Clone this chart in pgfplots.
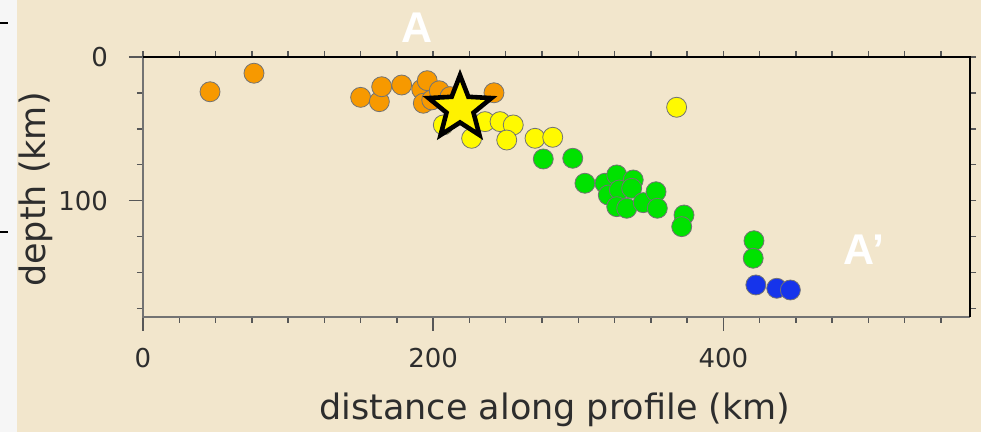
\documentclass[border=0pt]{standalone}
\usepackage{pgfplots}
\pgfplotsset{compat=1.18}
\usepackage{fontspec}
\setmainfont{DejaVu Sans}
\newfontfamily\markfont{Liberation Sans}

\definecolor{parchment}{RGB}{242,230,204}
\definecolor{quakeorange}{RGB}{247,153,0}
\definecolor{quakeyellow}{RGB}{255,250,0}
\definecolor{quakegreen}{RGB}{0,226,0}
\definecolor{quakeblue}{RGB}{22,52,235}
\definecolor{framegray}{RGB}{115,115,115}
\definecolor{inkgray}{RGB}{45,45,45}

% filled five-pointed star for the main shock
\pgfdeclareplotmark{fivestar}{%
  \pgfpathmoveto{\pgfpointpolar{90}{\pgfplotmarksize}}%
  \pgfpathlineto{\pgfpointpolar{126}{0.43\pgfplotmarksize}}%
  \pgfpathlineto{\pgfpointpolar{162}{\pgfplotmarksize}}%
  \pgfpathlineto{\pgfpointpolar{198}{0.43\pgfplotmarksize}}%
  \pgfpathlineto{\pgfpointpolar{234}{\pgfplotmarksize}}%
  \pgfpathlineto{\pgfpointpolar{270}{0.43\pgfplotmarksize}}%
  \pgfpathlineto{\pgfpointpolar{306}{\pgfplotmarksize}}%
  \pgfpathlineto{\pgfpointpolar{342}{0.43\pgfplotmarksize}}%
  \pgfpathlineto{\pgfpointpolar{18}{\pgfplotmarksize}}%
  \pgfpathlineto{\pgfpointpolar{54}{0.43\pgfplotmarksize}}%
  \pgfpathclose
  \pgfusepathqfillstroke}

% hypocentres: distance along profile (km), depth (km)
\pgfplotstableread{
x     d
46.2  24.2
76.5  11.3
150.0 28.1
162.9 31.1
164.5 20.7
178.3 19.5
192.1 22.5
195.9 16.5
193.2 32.2
199.0 29.9
204.2 23.5
211.6 27.6
241.9 24.9
}\orangeq
\pgfplotstableread{
x     d
207.0 47.3
226.5 56.6
235.7 45.0
246.1 45.0
255.2 47.3
250.7 57.8
270.2 56.6
282.4 55.9
367.8 35.0
}\yellowq
\pgfplotstableread{
x     d
275.9 71.0
296.2 70.5
304.6 87.9
318.4 87.9
326.5 82.1
337.9 85.6
320.7 96.1
328.3 92.6
336.8 91.4
326.5 104.2
333.4 105.3
344.8 101.4
353.6 93.8
354.5 105.3
372.9 110.0
371.3 118.1
421.1 127.9
420.6 140.1
}\greenq
\pgfplotstableread{
x     d
422.4 158.7
436.8 161.0
446.2 162.2
}\blueq

\pgfplotsset{
  profile box/.style={
    at={(71.5pt,57.5pt)}, anchor=south west,
    scale only axis, width=413.5pt, height=130pt,
    xmin=0, xmax=570, ymin=0, ymax=181,
    y dir=reverse,
    axis line style={draw=none},
    tick align=outside,
    tick style={inkgray!80, line width=0.7pt},
    clip=false,
  },
}

\begin{document}
\begin{tikzpicture}
\useasboundingbox (0pt,0pt) rectangle (490.5pt,216pt);
\fill[parchment] (0pt,0pt) rectangle (490.5pt,216pt);
\fill[white!93!gray] (0pt,0pt) rectangle (8.5pt,216pt);
\draw[black, line width=1.3pt] (0pt,204.5pt) -- (4pt,204.5pt);
\draw[black, line width=1.3pt] (0pt,100pt) -- (4pt,100pt);

% short ticks along the top and right edges
\begin{axis}[
  profile box,
  xtick={0,25,...,550}, ytick={0,25,...,175},
  xtick pos=upper, ytick pos=right,
  xticklabels={}, yticklabels={},
  major tick length=3pt,
]
\end{axis}

\begin{axis}[
  profile box,
  xtick={0,200,400}, minor xtick={25,50,...,550},
  ytick={0,100}, minor ytick={25,50,75,125,150,175},
  xtick pos=lower, ytick pos=left,
  major tick length=7pt, minor tick length=3pt,
  /pgf/number format/assume math mode=true,
  tick label style={font=\fontsize{13}{15}\selectfont, text=inkgray},
  xticklabel style={yshift=-5pt},
  yticklabel style={xshift=-7pt},
  xlabel={distance along profile (km)},
  ylabel={depth (km)},
  label style={font=\fontsize{17.5}{20}\selectfont, text=inkgray},
  xlabel style={at={(axis description cs:0.498,-0.358)}, anchor=center},
  ylabel style={at={(axis description cs:-0.129,0.49)}, anchor=center},
]
\addplot[only marks, mark=*, mark size=5pt,
  mark options={fill=quakeorange, draw=black!55, line width=0.4pt}]
  table[x=x, y=d] {\orangeq};
\addplot[only marks, mark=*, mark size=5pt,
  mark options={fill=quakeyellow, draw=black!55, line width=0.4pt}]
  table[x=x, y=d] {\yellowq};
\addplot[only marks, mark=*, mark size=5pt,
  mark options={fill=quakegreen, draw=black!55, line width=0.4pt}]
  table[x=x, y=d] {\greenq};
\addplot[only marks, mark=*, mark size=5pt,
  mark options={fill=quakeblue, draw=black!55, line width=0.4pt}]
  table[x=x, y=d] {\blueq};
% main shock
\addplot[only marks, mark=fivestar, mark size=16.5pt,
  mark options={fill=yellow, draw=black, line width=2.3pt}]
  coordinates {(218.5,35.7)};
\end{axis}

% profile frame
\draw[framegray, line width=1pt] (71.5pt,187.5pt) -- (71.5pt,57.5pt) -- (485pt,57.5pt);
\draw[black, line width=1pt] (71.5pt,187.5pt) -- (485pt,187.5pt) -- (485pt,57.5pt);

% profile end points
\node[font=\markfont\bfseries\fontsize{21.5}{24}\selectfont, text=white] at (208.75pt,202.25pt) {A};
\node[font=\markfont\bfseries\fontsize{21.5}{24}\selectfont, text=white] at (432pt,91pt) {A’};
\end{tikzpicture}
\end{document}
